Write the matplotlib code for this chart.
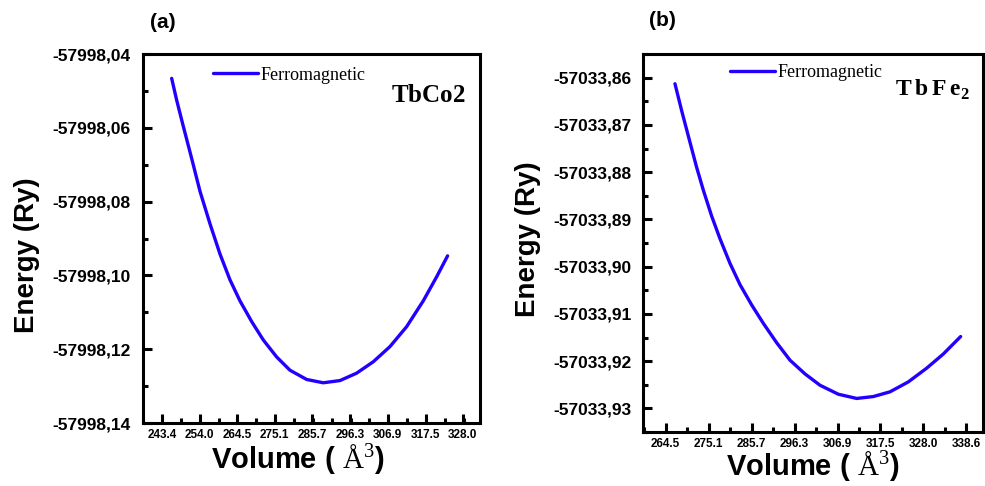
import numpy as np
import matplotlib
matplotlib.use("Agg")
import matplotlib.pyplot as plt
from matplotlib.ticker import FuncFormatter, MultipleLocator, AutoMinorLocator

plt.rcParams['font.family'] = ['Liberation Sans', 'DejaVu Sans']
plt.rcParams['mathtext.fontset'] = 'custom'
plt.rcParams['mathtext.rm'] = 'Liberation Serif'
plt.rcParams['mathtext.bf'] = 'Liberation Serif:bold'

# TbCo2 curve
vol_co = [246.12, 247.52, 249.39, 251.74, 254.08, 256.89, 259.70, 262.51, 265.32, 268.60,
          271.88, 275.63, 279.38, 284.06, 288.74, 293.43, 298.11, 302.80, 307.48, 312.17,
          316.85, 320.60, 323.69]
e_co = [-57998.0466, -57998.0525, -57998.0596, -57998.0683, -57998.0772, -57998.0860,
        -57998.0942, -57998.1012, -57998.1069, -57998.1125, -57998.1175, -57998.1221,
        -57998.1257, -57998.1282, -57998.1291, -57998.1285, -57998.1265, -57998.1234,
        -57998.1193, -57998.1139, -57998.1069, -57998.1004, -57998.0947]

# TbFe2 curve
vol_fe = [266.79, 268.44, 270.50, 272.14, 273.78, 275.84, 277.90, 280.36, 282.83, 285.71,
          288.59, 291.88, 295.17, 298.87, 302.57, 307.09, 311.62, 315.73, 319.84, 324.36,
          328.89, 333.00, 337.28]
e_fe = [-57033.8613, -57033.8670, -57033.8737, -57033.8790, -57033.8838, -57033.8893,
        -57033.8941, -57033.8993, -57033.9038, -57033.9081, -57033.9120, -57033.9161,
        -57033.9198, -57033.9227, -57033.9251, -57033.9270, -57033.9279, -57033.9275,
        -57033.9265, -57033.9244, -57033.9215, -57033.9185, -57033.9148]

xticks_co = [243.4, 254.0, 264.5, 275.1, 285.7, 296.3, 306.9, 317.5, 328.0]
xticks_fe = [264.5, 275.1, 285.7, 296.3, 306.9, 317.5, 328.0, 338.6]

W, H = 985, 486
fig = plt.figure(figsize=(W / 100, H / 100), dpi=100)

def px_axes(left, top, right, bottom):
    return fig.add_axes([left / W, 1 - bottom / H, (right - left) / W, (bottom - top) / H])

ax_a = px_axes(143, 54, 480, 423)
ax_b = px_axes(643, 54, 983, 432)

comma_fmt = FuncFormatter(lambda v, p: f"{v:.2f}".replace('.', ','))

def style(ax, xticks, xlim, ylim, ystep, ypad):
    ax.set_xlim(*xlim)
    ax.set_ylim(*ylim)
    ax.set_xticks(xticks)
    ax.set_xticklabels([f"{t:.1f}" for t in xticks])
    ax.xaxis.set_minor_locator(AutoMinorLocator(2))
    ax.yaxis.set_major_locator(MultipleLocator(ystep))
    ax.yaxis.set_minor_locator(MultipleLocator(ystep / 2))
    ax.yaxis.set_major_formatter(comma_fmt)
    for s in ax.spines.values():
        s.set_linewidth(2.2)
    ax.tick_params(which='both', direction='in', top=False, right=False, width=2.2)
    ax.tick_params(which='major', length=6.5)
    ax.tick_params(which='minor', length=3.5)
    ax.tick_params(axis='y', labelsize=12.5, pad=ypad)
    ax.tick_params(axis='x', labelsize=8.5, pad=4)
    for lab in ax.get_xticklabels() + ax.get_yticklabels():
        lab.set_fontweight('bold')

style(ax_a, xticks_co, (238.06, 332.8), (-57998.14, -57998.04), 0.02, 9)
style(ax_b, xticks_fe, (258.9, 342.8), (-57033.935, -57033.855), 0.01, 8)

blue = '#2200ff'
for ax, v, e, lx, ly in [(ax_a, vol_co, e_co, 0.208, 0.943), (ax_b, vol_fe, e_fe, 0.256, 0.950)]:
    ax.plot(v, e, color=blue, lw=2.4, label='Ferromagnetic', solid_capstyle='round')
    ax.legend(loc='center left', bbox_to_anchor=(lx, ly), frameon=False, borderpad=0,
              borderaxespad=0, handlelength=2.5, handletextpad=0.15,
              prop={'family': 'Liberation Serif', 'size': 13})

ax_a.text(0.847, 0.889, r"$\mathbf{TbCo2}$", transform=ax_a.transAxes, ha='center', va='center', fontsize=18)
ax_b.text(0.853, 0.905, r"$\mathbf{T\,b\,F\,e}_{\mathbf{2}}$", transform=ax_b.transAxes,
          ha='center', va='center', fontsize=17)

# axis titles and panel letters
def ftext(x, y, s, **kw):
    fig.text(x / W, 1 - y / H, s, ha='center', va='center', **kw)

ftext(163, 22, "(a)", fontsize=15, fontweight='bold')
ftext(662, 21, "(b)", fontsize=15, fontweight='bold')
ftext(27, 255, "Energy (Ry)", fontsize=20, fontweight='bold', rotation=90)
ftext(528, 239, "Energy (Ry)", fontsize=20, fontweight='bold', rotation=90)
xlab = r"Volume ( $\mathrm{\AA}^{3}$)"
ftext(298, 459, xlab, fontsize=21, fontweight='bold')
ftext(813, 466, xlab, fontsize=21, fontweight='bold')

fig.savefig("out.png", dpi=100)
